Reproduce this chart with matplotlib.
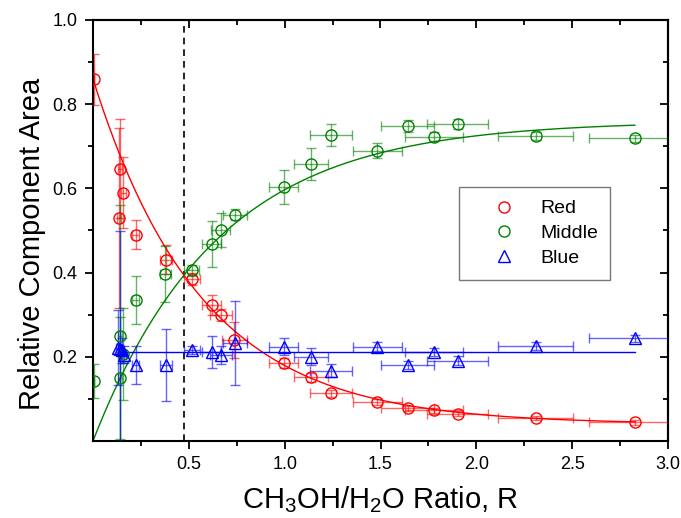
import numpy as np
import matplotlib
matplotlib.use("Agg")
import matplotlib.pyplot as plt
from matplotlib.lines import Line2D
from matplotlib.ticker import FixedLocator

plt.rcParams['font.family'] = ['Liberation Sans', 'DejaVu Sans']
plt.rcParams['mathtext.fontset'] = 'custom'
plt.rcParams['mathtext.rm'] = 'Liberation Sans'
plt.rcParams['mathtext.default'] = 'regular'

# ---------------- data ----------------
red_x = [0.007, 0.141, 0.158, 0.137, 0.223, 0.381, 0.518, 0.619, 0.666, 0.736,
         0.996, 1.137, 1.241, 1.483, 1.641, 1.779, 1.902, 2.309, 2.827]
red_y = [0.859, 0.647, 0.590, 0.530, 0.490, 0.431, 0.385, 0.323, 0.299, 0.240,
         0.185, 0.151, 0.113, 0.092, 0.078, 0.073, 0.065, 0.055, 0.044]
red_yerr = [0.060, 0.118, 0.085, 0.214, 0.035, 0.035, 0.015, 0.024, 0.015, 0.043,
            0.012, 0.010, 0.008, 0.007, 0.006, 0.006, 0.006, 0.005, 0.005]
red_xerr = [0.0, 0.010, 0.012, 0.010, 0.018, 0.030, 0.042, 0.050, 0.057, 0.065,
            0.076, 0.090, 0.110, 0.128, 0.140, 0.150, 0.160, 0.195, 0.240]

mid_x = [0.007, 0.141, 0.141, 0.158, 0.224, 0.377, 0.515, 0.619, 0.666, 0.741,
         0.996, 1.137, 1.241, 1.483, 1.641, 1.779, 1.902, 2.309, 2.827]
mid_y = [0.143, 0.250, 0.150, 0.207, 0.335, 0.396, 0.405, 0.468, 0.501, 0.538,
         0.603, 0.658, 0.727, 0.690, 0.748, 0.723, 0.752, 0.725, 0.719]
mid_yerr = [0.040, 0.310, 0.145, 0.110, 0.058, 0.067, 0.012, 0.054, 0.040, 0.013,
            0.040, 0.037, 0.026, 0.017, 0.015, 0.010, 0.012, 0.010, 0.008]
mid_xerr = [0.0, 0.010, 0.010, 0.012, 0.018, 0.030, 0.040, 0.050, 0.050, 0.065,
            0.076, 0.090, 0.110, 0.128, 0.140, 0.150, 0.160, 0.195, 0.240]

blue_x = [0.130, 0.140, 0.150, 0.160, 0.224, 0.381, 0.518, 0.619, 0.668, 0.741,
          0.996, 1.137, 1.241, 1.483, 1.641, 1.779, 1.902, 2.309, 2.827]
blue_y = [0.222, 0.218, 0.215, 0.205, 0.180, 0.180, 0.216, 0.212, 0.204, 0.232,
          0.224, 0.200, 0.167, 0.224, 0.180, 0.211, 0.191, 0.226, 0.244]
blue_yerr = [0.090, 0.280, 0.030, 0.020, 0.045, 0.085, 0.010, 0.038, 0.022, 0.100,
             0.020, 0.020, 0.015, 0.010, 0.010, 0.010, 0.010, 0.010, 0.008]
blue_xerr = [0.010, 0.010, 0.012, 0.012, 0.018, 0.030, 0.042, 0.050, 0.057, 0.065,
             0.076, 0.090, 0.110, 0.128, 0.140, 0.150, 0.160, 0.195, 0.240]

# fit parameters (exponential decay / growth, constant)
red_fit = dict(y0=0.04, A=0.82, t=0.564, xmin=0.0, xmax=2.827)
mid_fit = dict(A=0.76, t=0.65, xmin=0.0, xmax=2.827)
blue_fit = dict(c=0.212, xmin=0.13, xmax=2.827)
dashed_x = 0.475

series_names = ["Red", "Middle", "Blue"]
colors = ["#ff0000", "#008000", "#0000ff"]
x_ticks = [0.5, 1.0, 1.5, 2.0, 2.5, 3.0]
x_minor = [0.25, 0.75, 1.25, 1.75, 2.25, 2.75]
y_ticks = [0.2, 0.4, 0.6, 0.8, 1.0]
y_minor = [0.1, 0.3, 0.5, 0.7, 0.9]

# ---------------- figure ----------------
fig = plt.figure(figsize=(6.81, 5.18), dpi=100)
ax = fig.add_axes([93/681, 1 - 441/518, 575/681, 421/518])

ax.set_xlim(0, 3.0)
ax.set_ylim(0, 1.0)

# fit curves
xr = np.linspace(red_fit['xmin'], red_fit['xmax'], 300)
ax.plot(xr, red_fit['y0'] + red_fit['A'] * np.exp(-xr / red_fit['t']), color=colors[0], lw=1.0, zorder=2)
xm = np.linspace(mid_fit['xmin'], mid_fit['xmax'], 300)
ax.plot(xm, mid_fit['A'] * (1 - np.exp(-xm / mid_fit['t'])), color=colors[1], lw=1.0, zorder=2)
ax.plot([blue_fit['xmin'], blue_fit['xmax']], [blue_fit['c'], blue_fit['c']], color=colors[2], lw=1.0, zorder=2)

ax.axvline(dashed_x, color='black', ls=(0, (4, 3)), lw=1.2, zorder=1)

datasets = [
    (red_x, red_y, red_xerr, red_yerr, 'o'),
    (mid_x, mid_y, mid_xerr, mid_yerr, 'o'),
    (blue_x, blue_y, blue_xerr, blue_yerr, '^'),
]
for (x, y, xe, ye, mk), c in zip(datasets, colors):
    ax.errorbar(x, y, yerr=ye, xerr=xe, fmt='none', ecolor=c, elinewidth=1.0,
                capsize=3.5, capthick=1.0, alpha=0.6, zorder=3)
    ax.plot(x, y, ls='none', marker=mk, ms=8, mfc='none', mec=c, mew=1.0, zorder=4)

# axes styling
for sp in ax.spines.values():
    sp.set_linewidth(1.5)
ax.xaxis.set_major_locator(FixedLocator(x_ticks))
ax.xaxis.set_minor_locator(FixedLocator(x_minor))
ax.yaxis.set_major_locator(FixedLocator(y_ticks))
ax.yaxis.set_minor_locator(FixedLocator(y_minor))
ax.tick_params(which='major', direction='out', length=6, width=1.3, labelsize=13, pad=5)
ax.tick_params(which='minor', direction='out', length=3.5, width=1.3)

secx = ax.secondary_xaxis('top')
secx.xaxis.set_major_locator(FixedLocator(x_ticks))
secx.xaxis.set_minor_locator(FixedLocator(x_minor))
secx.tick_params(which='major', direction='in', length=6, width=1.3, labeltop=False)
secx.tick_params(which='minor', direction='in', length=3.5, width=1.3)
secx.spines['top'].set_linewidth(1.5)
secy = ax.secondary_yaxis('right')
secy.yaxis.set_major_locator(FixedLocator(y_ticks))
secy.yaxis.set_minor_locator(FixedLocator(y_minor))
secy.tick_params(which='major', direction='in', length=6, width=1.3, labelright=False)
secy.tick_params(which='minor', direction='in', length=3.5, width=1.3)
secy.spines['right'].set_linewidth(1.5)

ax.set_xlabel(r'CH$_3$OH/H$_2$O Ratio, R', fontsize=21, labelpad=8)
ax.set_ylabel('Relative Component Area', fontsize=21, labelpad=5)
ax.yaxis.label.set_y(0.469)

handles = [Line2D([], [], ls='none', marker=m, ms=8, mfc='none', mec=c, mew=1.0)
           for m, c in zip(['o', 'o', '^'], colors)]
leg = ax.legend(handles, series_names, loc='upper left', bbox_to_anchor=(0.637, 0.603),
                fontsize=14, frameon=True, fancybox=False, edgecolor='#555555',
                handlelength=3.3, handletextpad=0.2, borderpad=0.65, labelspacing=0.37,
                borderaxespad=0)
leg.get_frame().set_linewidth(1.0)

fig.savefig('out.png', dpi=100)
